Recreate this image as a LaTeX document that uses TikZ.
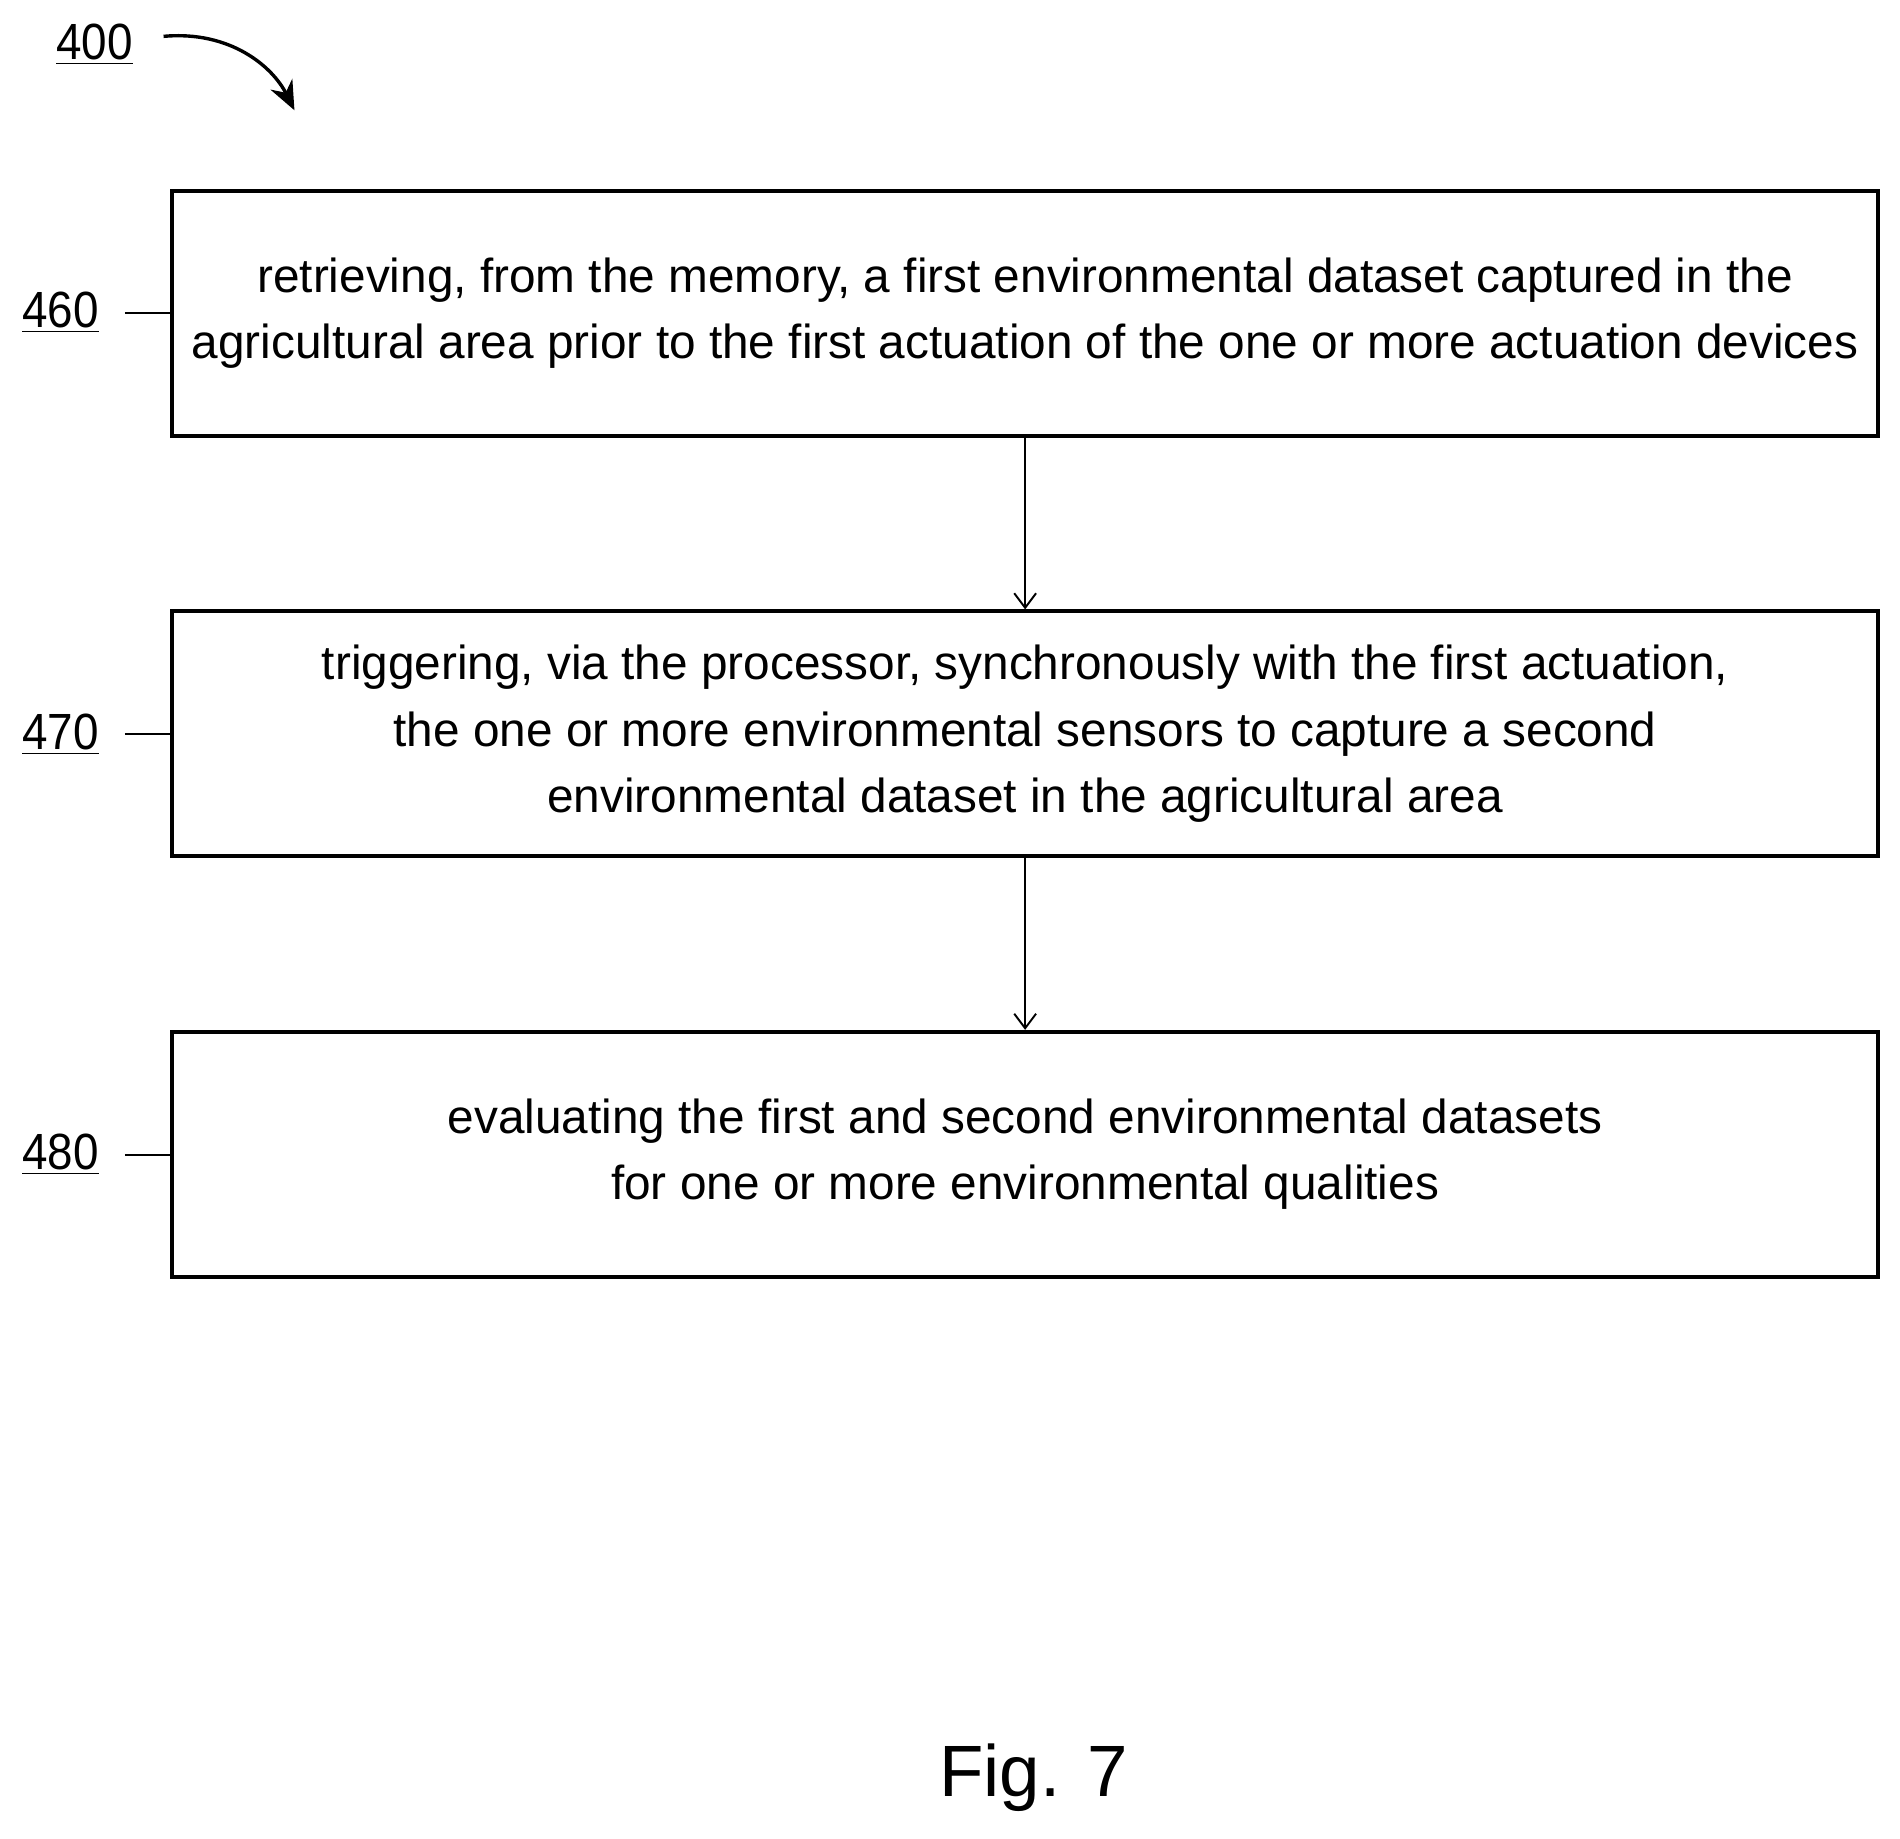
\documentclass[tikz,border=0pt]{standalone}
\usetikzlibrary{arrows.meta}
\usepackage{fontspec}
\setmainfont{Liberation Sans}
\newfontfamily\narrowf[FakeStretch=0.9]{Liberation Sans}
\begin{document}
\begin{tikzpicture}[x=0.5pt,y=-0.5pt,
  box/.style={draw,line width=1.6pt,minimum width=704pt,minimum height=101pt,align=center,font=\fontsize{19.7}{27.5}\selectfont,inner sep=0pt},
  lab/.style={font=\narrowf\fontsize{21}{24}\selectfont},
  arr/.style={-{Straight Barb[length=6pt,width=9pt]},line width=0.8pt}]
\useasboundingbox (0,0) rectangle (1568,1517);
\node[box] (b1) at (846,258.5) {retrieving, from the memory, a first environmental dataset captured in the\\agricultural area prior to the first actuation of the one or more actuation devices};
\node[box] (b2) at (846,605.5) {triggering, via the processor, synchronously with the first actuation,\\the one or more environmental sensors to capture a second\\environmental dataset in the agricultural area};
\node[box] (b3) at (846,952.5) {evaluating the first and second environmental datasets\\for one or more environmental qualities};
\draw[arr] (b1) -- (b2);
\draw[arr] (b2) -- (b3);
\foreach \n/\y/\b in {460/258/b1,470/606/b2,480/953/b3}{
  \node[lab] (l\n) at (50,\y) {\underline{\n}};
  \draw[line width=0.8pt] (103,\y) -- (\b.west|-0,\y);
}
\node[lab] (l400) at (78,37) {\underline{400}};
\coordinate (ae) at (243,91);
\draw[line width=1.4pt,-{Stealth[length=12pt,width=10pt]}] (135,30) .. controls (190,25) and (225,55) .. (ae);
\node[font=\fontsize{30}{34}\selectfont] (fig) at (853,1467) {Fig. 7};
\end{tikzpicture}
\end{document}
